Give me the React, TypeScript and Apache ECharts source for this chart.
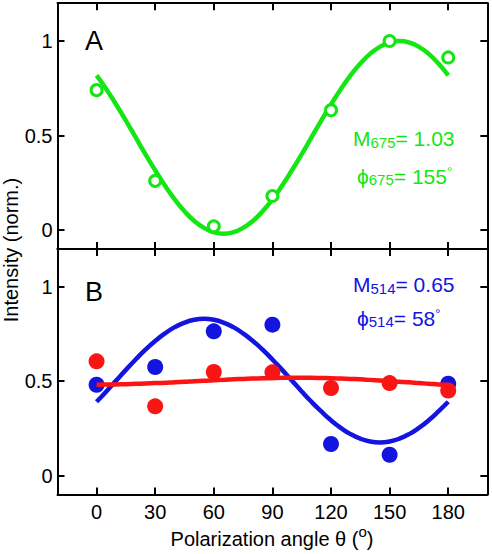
import React, { useEffect, useRef } from "react";
import * as echarts from "echarts";

const FONT = "Liberation Sans, Arial, Helvetica, sans-serif";

const angles = [0, 30, 60, 90, 120, 150, 180];
const greenPoints = [0.74, 0.26, 0.02, 0.18, 0.634, 1.0, 0.913];
const bluePoints = [0.481, 0.575, 0.764, 0.799, 0.168, 0.111, 0.487];
const redPoints = [0.605, 0.367, 0.549, 0.547, 0.464, 0.49, 0.451];

const fitAngles = [
  0, 5, 10, 15, 20, 25, 30, 35, 40, 45, 50, 55, 60, 65, 70, 75, 80, 85, 90,
  95, 100, 105, 110, 115, 120, 125, 130, 135, 140, 145, 150, 155, 160, 165, 170, 175, 180,
];
const greenFit = [
  0.818, 0.745, 0.664, 0.579, 0.49, 0.401, 0.316, 0.235, 0.162, 0.099, 0.048, 0.011, -0.012, -0.02, -0.012, 0.011, 0.048, 0.099, 0.162,
  0.235, 0.316, 0.401, 0.49, 0.579, 0.664, 0.745, 0.818, 0.881, 0.932, 0.969, 0.992, 1.0, 0.992, 0.969, 0.932, 0.881, 0.818,
];
const blueFit = [
  0.391, 0.446, 0.503, 0.56, 0.615, 0.667, 0.713, 0.753, 0.786, 0.81, 0.825, 0.83, 0.825, 0.81, 0.786, 0.753, 0.713, 0.667, 0.615,
  0.56, 0.503, 0.446, 0.391, 0.34, 0.293, 0.253, 0.22, 0.196, 0.181, 0.176, 0.181, 0.196, 0.22, 0.253, 0.293, 0.34, 0.391,
];
const redFit = [
  0.481, 0.482, 0.483, 0.484, 0.486, 0.488, 0.49, 0.492, 0.495, 0.497, 0.5, 0.502, 0.505, 0.507, 0.51, 0.512, 0.514, 0.515, 0.517,
  0.518, 0.518, 0.518, 0.518, 0.517, 0.516, 0.514, 0.512, 0.51, 0.507, 0.504, 0.501, 0.497, 0.494, 0.49, 0.487, 0.483, 0.48,
];

const xTicks = [0, 30, 60, 90, 120, 150, 180];
const yTicks = [0, 0.5, 1];

const GREEN = "#14e614";
const BLUE = "#1414e0";
const RED = "#fa1414";

const pair = (xs: number[], ys: number[]) => xs.map((x, i) => [x, ys[i]]);

export default function App() {
  const ref = useRef<HTMLDivElement>(null);
  useEffect(() => {
    if (!ref.current) return;
    const chart = echarts.init(ref.current, undefined, { renderer: "svg" });
    const axisLine = { show: true, onZero: false, lineStyle: { color: "#000", width: 2 } };
    const tick = { show: true, inside: true, length: 7, lineStyle: { color: "#000", width: 2 } };
    const mkX = (gridIndex: number, position: string, labels: boolean) => ({
      type: "value",
      gridIndex,
      position,
      min: -20,
      max: 200,
      axisLine,
      axisTick: { ...tick, customValues: xTicks },
      axisLabel: labels
        ? { show: true, customValues: xTicks, margin: 7, color: "#000", fontSize: 20, fontFamily: FONT }
        : { show: false },
      splitLine: { show: false },
    });
    const mkY = (gridIndex: number, position: string, labels: boolean) => ({
      type: "value",
      gridIndex,
      position,
      min: -0.1,
      max: 1.2,
      axisLine,
      axisTick: { ...tick, customValues: yTicks },
      axisLabel: labels
        ? {
            show: true,
            customValues: yTicks,
            margin: 5,
            color: "#000",
            fontSize: 20,
            fontFamily: FONT,
            formatter: (v: number) => String(v),
          }
        : { show: false },
      splitLine: { show: false },
    });

    const mRich = (color: string) => ({
      m: { fontSize: 21, lineHeight: 22, fill: color, fontFamily: FONT },
      s: { fontSize: 15, lineHeight: 12, verticalAlign: "bottom", fill: color, fontFamily: FONT },
      d: { fontSize: 13, lineHeight: 20, verticalAlign: "top", fill: color, fontFamily: FONT },
    });

    const label = (x: number, y: number, text: string, color: string) => ({
      type: "text",
      x,
      y,
      style: {
        text,
        rich: mRich(color),
        fill: color,
        fontSize: 21,
        fontFamily: FONT,
        align: "left",
        verticalAlign: "middle",
      },
    });

    chart.setOption({
      animation: false,
      backgroundColor: "#fff",
      grid: [
        { left: 57.5, right: 4.7, top: 3.2, height: 245.7 },
        { left: 57.5, right: 4.7, top: 248.9, height: 245.7 },
      ],
      xAxis: [mkX(0, "bottom", false), mkX(0, "top", false), mkX(1, "bottom", true), mkX(1, "top", false)],
      yAxis: [mkY(0, "left", true), mkY(0, "right", false), mkY(1, "left", true), mkY(1, "right", false)],
      graphic: [
        {
          type: "text",
          x: 11,
          y: 250,
          rotation: Math.PI / 2,
          style: {
            text: "Intensity (norm.)",
            fill: "#000",
            fontSize: 20,
            fontFamily: FONT,
            align: "center",
            verticalAlign: "middle",
          },
        },
        {
          type: "text",
          x: 272,
          y: 538.5,
          style: {
            text: "{t|Polarization angle θ (}{o|o}{t|)}",
            rich: {
              t: { fontSize: 20, lineHeight: 30, fill: "#000", fontFamily: FONT },
              o: { fontSize: 15, lineHeight: 6, verticalAlign: "top", fill: "#000", fontFamily: FONT },
            },
            fill: "#000",
            fontSize: 20,
            fontFamily: FONT,
            align: "center",
            verticalAlign: "middle",
          },
        },
        {
          type: "text",
          x: 85,
          y: 40.5,
          style: { text: "A", fill: "#000", fontSize: 27, fontFamily: FONT, align: "left", verticalAlign: "middle" },
        },
        {
          type: "text",
          x: 85,
          y: 292,
          style: { text: "B", fill: "#000", fontSize: 27, fontFamily: FONT, align: "left", verticalAlign: "middle" },
        },
        label(353, 138.7, "{m|M}{s|675}{m|= 1.03}", GREEN),
        label(357, 176.3, "{m|ϕ}{s|675}{m|= 155}{d|°}", GREEN),
        label(353, 284.5, "{m|M}{s|514}{m|= 0.65}", BLUE),
        label(357, 318, "{m|ϕ}{s|514}{m|= 58}{d|°}", BLUE),
      ],
      series: [
        {
          type: "line",
          xAxisIndex: 0,
          yAxisIndex: 0,
          data: pair(fitAngles, greenFit),
          smooth: true,
          showSymbol: false,
          lineStyle: { color: GREEN, width: 4.5 },
          z: 2,
        },
        {
          type: "scatter",
          xAxisIndex: 0,
          yAxisIndex: 0,
          data: pair(angles, greenPoints),
          symbol: "circle",
          symbolSize: 11,
          itemStyle: { color: "#fff", borderColor: GREEN, borderWidth: 3, opacity: 1 },
          z: 3,
        },
        {
          type: "line",
          xAxisIndex: 2,
          yAxisIndex: 2,
          data: pair(fitAngles, blueFit),
          smooth: true,
          showSymbol: false,
          lineStyle: { color: BLUE, width: 4.5 },
          z: 2,
        },
        {
          type: "scatter",
          xAxisIndex: 2,
          yAxisIndex: 2,
          data: pair(angles, bluePoints),
          symbol: "circle",
          symbolSize: 16,
          itemStyle: { color: BLUE, opacity: 1 },
          z: 3,
        },
        {
          type: "line",
          xAxisIndex: 2,
          yAxisIndex: 2,
          data: pair(fitAngles, redFit),
          smooth: true,
          showSymbol: false,
          lineStyle: { color: RED, width: 4.5 },
          z: 4,
        },
        {
          type: "scatter",
          xAxisIndex: 2,
          yAxisIndex: 2,
          data: pair(angles, redPoints),
          symbol: "circle",
          symbolSize: 16,
          itemStyle: { color: RED, opacity: 1 },
          z: 5,
        },
      ],
    });
    return () => chart.dispose();
  }, []);
  return (
    <div
      ref={ref}
      style={{ position: "fixed", left: 0, top: 0, width: 492, height: 554, background: "#fff" }}
    />
  );
}
